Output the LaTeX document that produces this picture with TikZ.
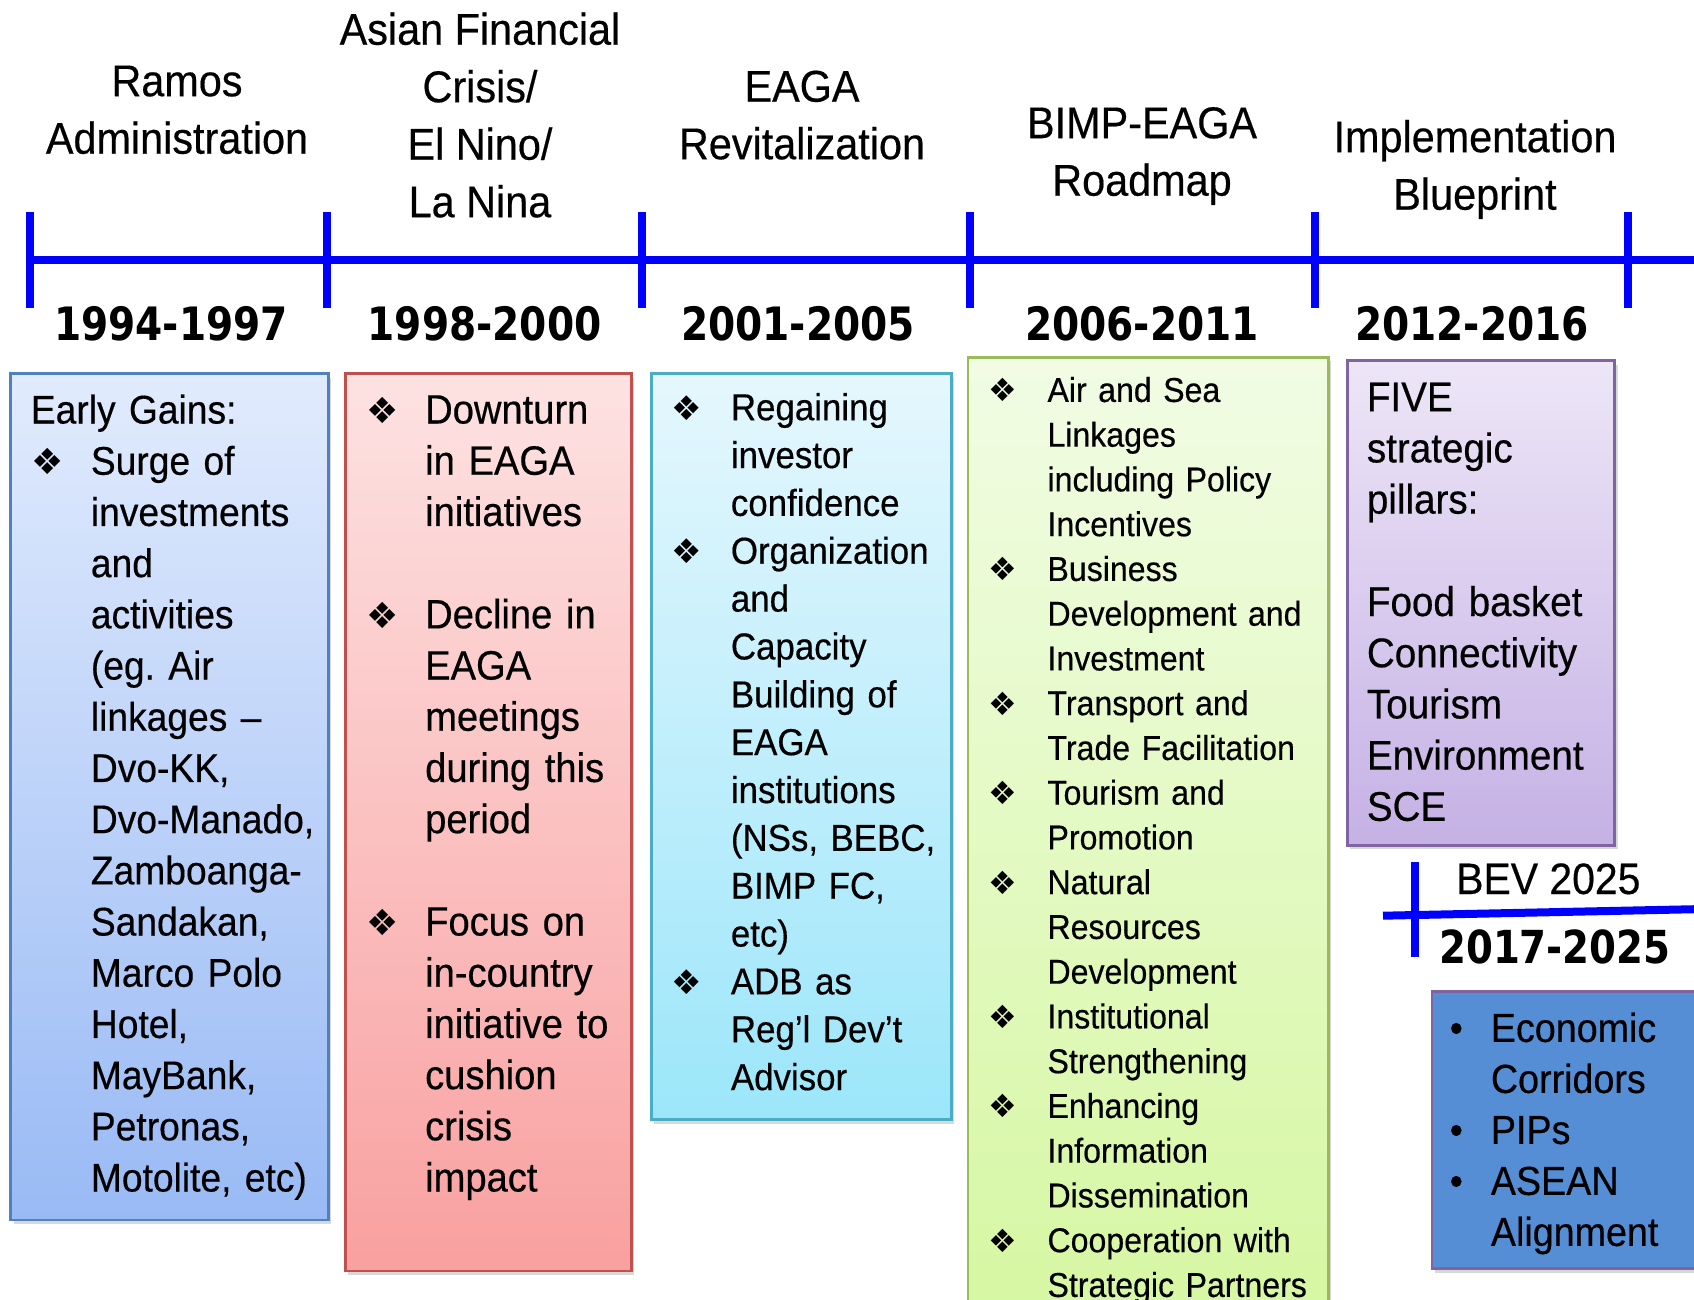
\documentclass[tikz,border=0pt]{standalone}
\usepackage{fontspec}
\setmainfont[FakeStretch=0.93,FakeBold=0.4]{Liberation Sans}
\newfontfamily\yearfont[FakeStretch=0.85]{DejaVu Sans}
\newfontfamily\symfont{DejaVu Sans}
\usetikzlibrary{shadows}
\definecolor{tlblue}{RGB}{0,0,255}
\definecolor{aTop}{HTML}{E1EBFD}\definecolor{aBot}{HTML}{99BAF5}\definecolor{aBrd}{HTML}{4F81BD}
\definecolor{bTop}{HTML}{FDE2E2}\definecolor{bBot}{HTML}{F9A0A0}\definecolor{bBrd}{HTML}{C0504D}
\definecolor{cTop}{HTML}{E5F7FD}\definecolor{cBot}{HTML}{9CE6FA}\definecolor{cBrd}{HTML}{4BACC6}
\definecolor{dTop}{HTML}{F1FCE4}\definecolor{dBot}{HTML}{D5F7A0}\definecolor{dBrd}{HTML}{9BBB59}
\definecolor{eTop}{HTML}{EDE6F7}\definecolor{eBot}{HTML}{C5B1E5}\definecolor{eBrd}{HTML}{8064A2}
\definecolor{fFill}{HTML}{558ED5}
\newcommand\dbul[1]{{\symfont\fontsize{#1}{#1}\selectfont ❖}}
\newcommand\itm[3]{\noindent\makebox[#1][l]{#2}\begin{tabular}[t]{@{}l@{}}#3\end{tabular}\par}
\begin{document}
\frenchspacing
\begin{tikzpicture}[x=1pt,y=-1pt,
  tline/.style={draw=tlblue,line width=8pt},
  panel/.style={draw,line width=2.5pt,anchor=north west,inner sep=0pt,
    drop shadow={shadow xshift=3pt,shadow yshift=-4pt,opacity=0.3}},
  txt/.style={anchor=north west,inner sep=0pt,text width=420pt,align=left,
    execute at begin node={\lineskip=0pt\relax}},
  head/.style={anchor=north,inner sep=0pt,align=center,font=\fontsize{44.5}{57.5}\selectfont},
  yr/.style={anchor=base,inner sep=0pt,font=\yearfont\bfseries\fontsize{46}{50}\selectfont}]
\useasboundingbox (0,0) rectangle (1694,1300);
\clip (0,0) rectangle (1694,1300);
\fill[white] (0,0) rectangle (1694,1300);

% timeline
\coordinate (tlA) at (26,260);
\coordinate (tlB) at (1700,260);
\draw[tline] (tlA) -- (tlB);
\foreach \x in {30,327,642,970,1315,1628}{
  \draw[tline] (\x,212) -- (\x,308);
}

% headers
\node[head] (h1) at (177,96-40.25) {\strut Ramos\\Administration};
\node[head] (h2) at (480,44.5-40.25) {\strut Asian Financial\\Crisis/\\El Nino/\\La Nina};
\node[head] (h3) at (802,101.5-40.25) {\strut EAGA\\Revitalization};
\node[head] (h4) at (1142,138-40.25) {\strut BIMP-EAGA\\Roadmap};
\node[head] (h5) at (1475,152-40.25) {\strut Implementation\\Blueprint};

% years
\node[yr] (y1) at (171,340) {1994-1997};
\node[yr] (y2) at (484.6,340) {1998-2000};
\node[yr] (y3) at (798,340) {2001-2005};
\node[yr] (y4) at (1142,340) {2006-2011};
\node[yr] (y5) at (1472,340) {2012-2016};

% panels
\node[panel,draw=aBrd,top color=aTop,bottom color=aBot,minimum width=317.7pt,minimum height=846.4pt] (p1) at (9.3,372.3) {};
\node[panel,draw=bBrd,top color=bTop,bottom color=bBot,minimum width=286pt,minimum height=897.5pt] (p2) at (344,372.3) {};
\node[panel,draw=cBrd,top color=cTop,bottom color=cBot,minimum width=300pt,minimum height=746pt] (p3) at (650,372.3) {};
\node[panel,draw=dBrd,top color=dTop,bottom color=dBot,minimum width=360.3pt,minimum height=990pt] (p4) at (966.7,356) {};
\node[panel,draw=eBrd,top color=eTop,bottom color=eBot,minimum width=267.3pt,minimum height=484.7pt] (p5) at (1346,359.3) {};
\node[panel,draw=eBrd,fill=fFill,minimum width=300pt,minimum height=277.3pt] (p6) at (1430.7,990) {};

% BEV timeline
\coordinate (bvA) at (1383,915.7);
\coordinate (bvB) at (1700,909.1);
\draw[tline] (bvA) -- (bvB);
\draw[tline] (1415,862) -- (1415,957);
\node[anchor=base west,inner sep=0pt,font=\fontsize{44}{50}\selectfont] (bev) at (1456,894) {BEV 2025};
\node[anchor=base west,inner sep=0pt,font=\yearfont\bfseries\fontsize{45.5}{50}\selectfont] (y6) at (1439,963.3) {2017-2025};

% texts
\node[txt,font=\fontsize{40}{51.2}\selectfont] (t1) at (30.7,387.5) {%
\strut Early Gains:\par
\itm{60pt}{\hspace{1pt}\dbul{36}}{Surge of\\investments\\and\\activities\\(eg. Air\\linkages –\\Dvo-KK,\\Dvo-Manado,\\Zamboanga-\\Sandakan,\\Marco Polo\\Hotel,\\MayBank,\\Petronas,\\Motolite, etc)}};

\node[txt,font=\fontsize{41}{51.2}\selectfont] (t2) at (366,387.5) {%
\itm{59pt}{\dbul{36}}{\strut Downturn\\in EAGA\\initiatives}\vspace{\baselineskip}
\itm{59pt}{\dbul{36}}{Decline in\\EAGA\\meetings\\during this\\period}\vspace{\baselineskip}
\itm{59pt}{\dbul{36}}{Focus on\\in-country\\initiative to\\cushion\\crisis\\impact}};

\node[txt,font=\fontsize{37.5}{47.85}\selectfont] (t3) at (671,386.5) {%
\itm{59.7pt}{\dbul{34}}{\strut Regaining\\investor\\confidence}
\itm{59.7pt}{\dbul{34}}{Organization\\and\\Capacity\\Building of\\EAGA\\institutions\\(NSs, BEBC,\\BIMP FC,\\etc)}
\itm{59.7pt}{\dbul{34}}{ADB as\\Reg’l Dev’t\\Advisor}};

\node[txt,font=\fontsize{34.5}{44.75}\selectfont] (t4) at (988.5,370.4) {%
\itm{58.8pt}{\dbul{32}}{\strut Air and Sea\\Linkages\\including Policy\\Incentives}
\itm{58.8pt}{\dbul{32}}{Business\\Development and\\Investment}
\itm{58.8pt}{\dbul{32}}{Transport and\\Trade Facilitation}
\itm{58.8pt}{\dbul{32}}{Tourism and\\Promotion}
\itm{58.8pt}{\dbul{32}}{Natural\\Resources\\Development}
\itm{58.8pt}{\dbul{32}}{Institutional\\Strengthening}
\itm{58.8pt}{\dbul{32}}{Enhancing\\Information\\Dissemination}
\itm{58.8pt}{\dbul{32}}{Cooperation with\\Strategic Partners}};

\node[txt,font=\fontsize{41.5}{51.2}\selectfont] (t5) at (1366.7,375.2) {%
\strut FIVE\\strategic\\pillars:\par\vspace{\baselineskip}
Food basket\\Connectivity\\Tourism\\Environment\\SCE};

\node[txt,font=\fontsize{40.5}{51}\selectfont] (t6) at (1449.5,1006) {%
\itm{41.2pt}{•}{\strut Economic\\Corridors}
\itm{41.2pt}{•}{PIPs}
\itm{41.2pt}{•}{ASEAN\\Alignment}};
\end{tikzpicture}
\end{document}
